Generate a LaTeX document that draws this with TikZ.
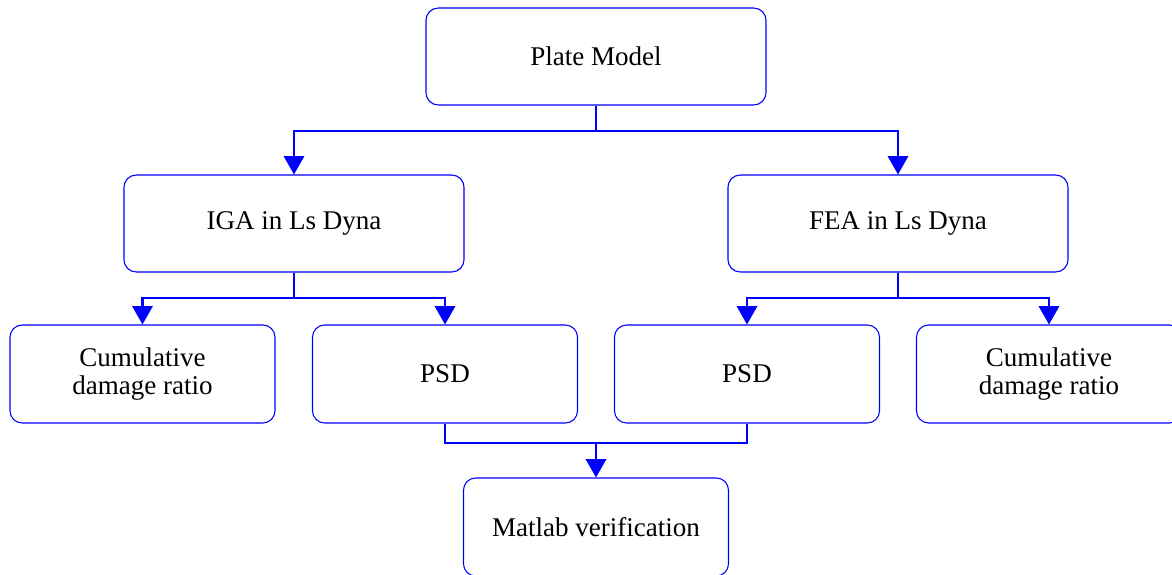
\documentclass[tikz,border=0pt]{standalone}
\usepackage{fontspec}
\setmainfont{Liberation Serif}
\usetikzlibrary{arrows.meta,calc}
\begin{document}
\begin{tikzpicture}[
  every node/.style={font=\fontsize{10}{10.2}\selectfont},
  box/.style={draw=blue, rounded corners=4.5pt, align=center, inner sep=2pt},
  bigbox/.style={box, minimum width=4.42cm, minimum height=1.26cm},
  smallbox/.style={box, minimum width=3.445cm, minimum height=1.274cm},
  link/.style={blue, line width=0.9pt},
  arr/.style={link, -{Triangle[width=7.5pt,length=6.8pt]}}
]
\useasboundingbox (0,0) rectangle (15.236,-7.475);
\node[bigbox] (plate) at (7.748,-0.7345) {Plate Model};
\node[bigbox] (iga) at (3.822,-2.9055) {IGA in Ls Dyna};
\node[bigbox] (fea) at (11.674,-2.9055) {FEA in Ls Dyna};
\node[smallbox] (cum1) at (1.8525,-4.862) {Cumulative\\damage ratio};
\node[smallbox] (psd1) at (5.785,-4.862) {PSD};
\node[smallbox] (psd2) at (9.711,-4.862) {PSD};
\node[smallbox] (cum2) at (13.637,-4.862) {Cumulative\\damage ratio};
\node[smallbox] (matlab) at (7.748,-6.851) {Matlab verification};
% tree connectors
\foreach \src/\a/\b in {plate/iga/fea, iga/cum1/psd1, fea/psd2/cum2} {
  \draw[arr] (\src.south) -- ++(0,-0.33) -| (\a.north);
  \draw[arr] (\src.south) -- ++(0,-0.33) -| (\b.north);
}
% merge into verification
\draw[link] (psd1.south) -- ++(0,-0.25) -| (psd2.south);
\coordinate (join) at ($(psd1.south)!0.5!(psd2.south)+(0,-0.25)$);
\draw[arr] (join) -- (matlab.north);
\end{tikzpicture}
\end{document}
